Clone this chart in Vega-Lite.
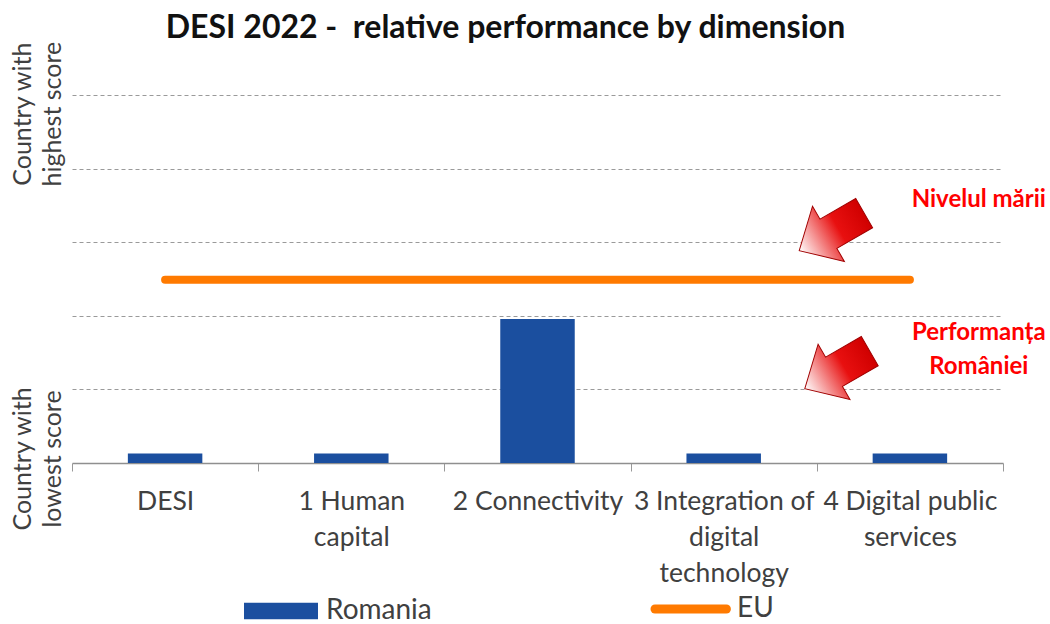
{
  "$schema": "https://vega.github.io/schema/vega-lite/v6.json",
  "width": 931,
  "height": 368,
  "autosize": {"type": "none"},
  "padding": {"left": 72, "top": 95, "right": 47, "bottom": 161},
  "title": {"text": "DESI 2022 - \u00a0relative performance by dimension", "frame": "group", "font": "Lato", "fontSize": 32, "fontWeight": "bold", "color": "#111111", "anchor": "middle", "dx": -32, "offset": -3},
  "config": {"view": {"stroke": null}, "font": "Lato"},
  "datasets": {
    "scores": [
      {"dimension": "DESI", "series": "Romania", "value": 2.6},
      {"dimension": "1 Human capital", "series": "Romania", "value": 2.6},
      {"dimension": "2 Connectivity", "series": "Romania", "value": 39.1},
      {"dimension": "3 Integration of digital technology", "series": "Romania", "value": 2.6},
      {"dimension": "4 Digital public services", "series": "Romania", "value": 2.6},
      {"dimension": "DESI", "series": "EU", "value": 49.8},
      {"dimension": "1 Human capital", "series": "EU", "value": 49.8},
      {"dimension": "2 Connectivity", "series": "EU", "value": 49.8},
      {"dimension": "3 Integration of digital technology", "series": "EU", "value": 49.8},
      {"dimension": "4 Digital public services", "series": "EU", "value": 49.8}
    ],
    "arrows": [
      {"pos": 4.08, "level": 62.8},
      {"pos": 4.11, "level": 25.3}
    ],
    "notes": [
      {"pos": 4.87, "level": 71.5, "note": "Nivelul mării"},
      {"pos": 4.87, "level": 35.3, "note": "Performanța|României"}
    ],
    "sides": [
      {"pos": -0.263, "level": 94.8, "t": "Country with|highest score"},
      {"pos": -0.263, "level": 1.1, "t": "Country with|lowest score"}
    ]
  },
  "layer": [
    {
      "data": {"name": "scores"},
      "transform": [{"filter": "datum.series == 'Romania'"}],
      "mark": {"type": "bar", "width": {"band": 0.4}},
      "encoding": {
        "x": {"field": "dimension", "type": "nominal", "sort": null,
          "scale": {"paddingInner": 0, "paddingOuter": 0},
          "axis": {"title": null, "labelAngle": 0,
            "labelExpr": "datum.value == '1 Human capital' ? ['1 Human','capital'] : datum.value == '3 Integration of digital technology' ? ['3 Integration of','digital','technology'] : datum.value == '4 Digital public services' ? ['4 Digital public','services'] : datum.value",
            "labelFont": "Lato", "labelFontSize": 26.5, "labelColor": "#404040", "labelLineHeight": 36, "labelBaseline": "top", "labelPadding": 17,
            "labelOverlap": false, "labelLimit": 0, "labelBound": false,
            "tickBand": "extent", "tickSize": 8, "tickColor": "#999999", "domainColor": "#8f8f8f", "domainWidth": 1.5, "grid": false}},
        "y": {"field": "value", "type": "quantitative", "scale": {"domain": [0, 100], "nice": false},
          "axis": {"title": null, "labels": false, "ticks": false, "domain": false, "values": [20, 40, 60, 80, 100], "grid": true, "gridDash": [4, 3], "gridColor": "#9a9a9a", "gridWidth": 1}},
        "color": {"field": "series", "type": "nominal",
          "scale": {"domain": ["Romania", "EU"], "range": ["#1B4F9F", "#FF7A00"]},
          "legend": {"orient": "none", "legendX": 195, "legendY": 500, "direction": "horizontal", "title": null,
            "symbolSize": 5476, "labelFont": "Lato", "labelFontSize": 28, "labelColor": "#404040", "labelOffset": 31, "columnPadding": 205,
            "encode": {"symbols": {"update": {
              "shape": {"signal": "datum.value === 'EU' ? 'M-1,0H0.93' : 'M-1,-0.22H1V0.22H-1Z'"},
              "strokeWidth": {"signal": "datum.value === 'EU' ? 9 : 0"},
              "strokeCap": {"value": "round"},
              "fill": {"signal": "datum.value === 'EU' ? 'transparent' : '#1B4F9F'"},
              "stroke": {"signal": "datum.value === 'EU' ? '#FF7A00' : 'transparent'"},
              "opacity": {"value": 1}}}}}}
      }
    },
    {
      "data": {"name": "scores"},
      "transform": [{"filter": "datum.series == 'EU'"}],
      "mark": {"type": "line", "strokeWidth": 8, "strokeCap": "round"},
      "encoding": {
        "x": {"field": "dimension", "type": "nominal", "sort": null, "scale": {"paddingInner": 0, "paddingOuter": 0}, "axis": null},
        "y": {"field": "value", "type": "quantitative"},
        "color": {"field": "series", "type": "nominal"}
      }
    },
    {
      "data": {"name": "arrows"},
      "mark": {"type": "point", "shape": "M0,-1L0.85,-0.1L0.45,-0.1L0.45,1L-0.45,1L-0.45,-0.1L-0.85,-0.1Z", "angle": 240, "size": 5625, "filled": true,
        "fill": {"gradient": "linear", "x1": 0, "y1": 0, "x2": 0, "y2": 1, "stops": [{"offset": 0, "color": "#ffffff"}, {"offset": 0.6, "color": "#e81010"}, {"offset": 1, "color": "#d00000"}]},
        "stroke": "#a00000", "strokeWidth": 1, "opacity": 1},
      "encoding": {
        "x": {"field": "pos", "type": "quantitative", "scale": {"domain": [0, 5], "nice": false, "zero": false}, "axis": null},
        "y": {"field": "level", "type": "quantitative"}
      }
    },
    {
      "data": {"name": "notes"},
      "mark": {"type": "text", "lineBreak": "|", "font": "Lato", "fontSize": 24, "fontWeight": "bold", "color": "#ff0000", "align": "center", "baseline": "middle", "lineHeight": 34},
      "encoding": {
        "x": {"field": "pos", "type": "quantitative", "scale": {"domain": [0, 5], "nice": false, "zero": false}, "axis": null},
        "y": {"field": "level", "type": "quantitative"},
        "text": {"field": "note", "type": "nominal"}
      }
    },
    {
      "data": {"name": "sides"},
      "mark": {"type": "text", "lineBreak": "|", "font": "Lato", "fontSize": 25, "color": "#404040", "align": "center", "baseline": "middle", "lineHeight": 30, "angle": 270},
      "encoding": {
        "x": {"field": "pos", "type": "quantitative", "scale": {"domain": [0, 5], "nice": false, "zero": false}, "axis": null},
        "y": {"field": "level", "type": "quantitative"},
        "text": {"field": "t", "type": "nominal"}
      }
    }
  ],
  "resolve": {"scale": {"x": "independent"}}
}
